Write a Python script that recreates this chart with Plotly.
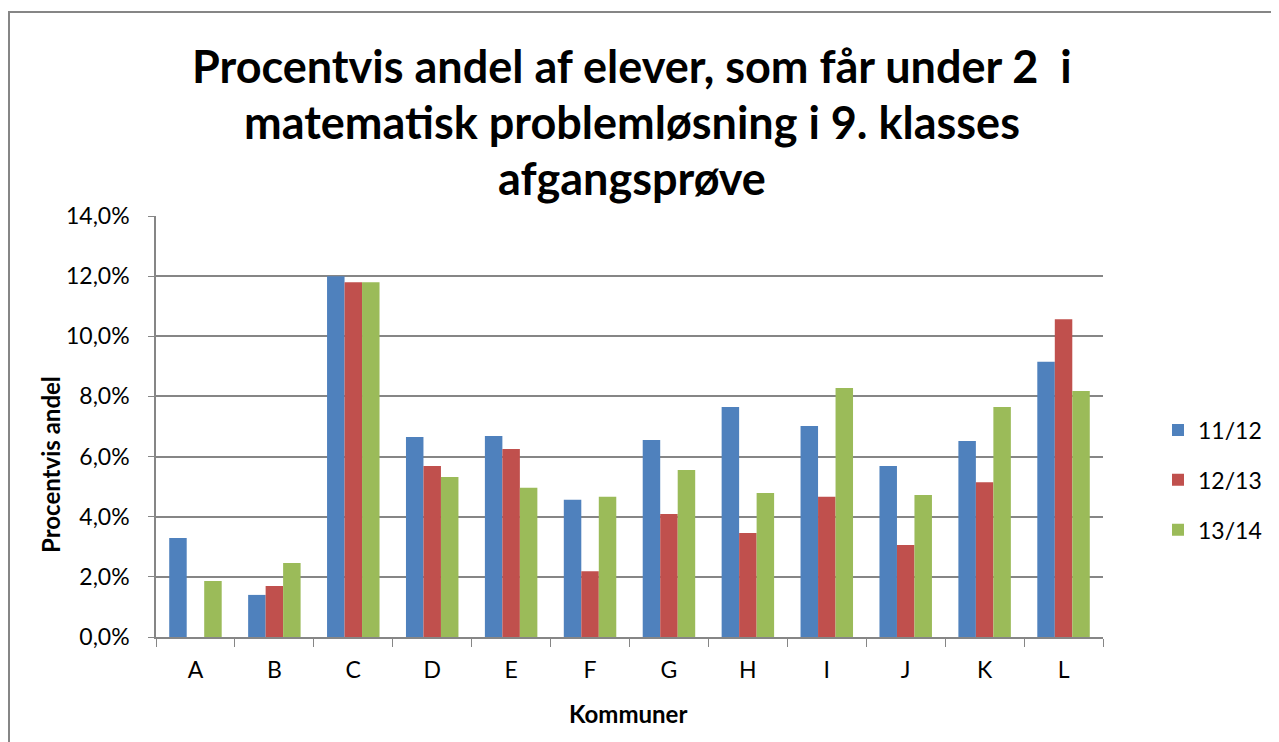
import plotly.graph_objects as go

# Kommuner og procentvis andel (som brøk)
KOMMUNER = ['A', 'B', 'C', 'D', 'E', 'F', 'G', 'H', 'I', 'J', 'K', 'L']
SERIES_NAMES = ['11/12', '12/13', '13/14']
V_11_12 = [0.0329, 0.0140, 0.1200, 0.0665, 0.0668, 0.0456, 0.0655, 0.0765, 0.0702, 0.0569, 0.0652, 0.0915]
V_12_13 = [None, 0.0170, 0.1180, 0.0569, 0.0625, 0.0219, 0.0409, 0.0346, 0.0466, 0.0306, 0.0515, 0.1057]
V_13_14 = [0.0186, 0.0246, 0.1180, 0.0532, 0.0496, 0.0466, 0.0555, 0.0479, 0.0828, 0.0472, 0.0765, 0.0818]
Y_TICKS = [0, 0.02, 0.04, 0.06, 0.08, 0.10, 0.12, 0.14]
TITLE_LINES = ['Procentvis andel af elever, som får under 2  i',
               'matematisk problemløsning i 9. klasses',
               'afgangsprøve']

COLORS = ['#4F81BD', '#C0504D', '#9BBB59']
FONT = 'Lato, Calibri, sans-serif'

# plot area in page pixels (page has an 8px body margin)
PX_L, PX_R, PX_T, PX_B = 156, 1103, 216, 637
W, H = PX_R - PX_L, PX_B - PX_T


def px_x(x):
    return (x - PX_L) / W


def px_y(y):
    return (PX_B - y) / H


fig = go.Figure()
for i, (name, vals) in enumerate(zip(SERIES_NAMES, [V_11_12, V_12_13, V_13_14])):
    fig.add_trace(go.Bar(x=KOMMUNER, y=vals, name=name, legendgroup=name,
                         marker=dict(color=COLORS[i], line=dict(width=0))))

fig.update_layout(
    width=1271, height=734,
    paper_bgcolor='white', plot_bgcolor='white',
    margin=dict(l=PX_L - 8, r=1271 - (PX_R - 8), t=PX_T - 8, b=734 - (PX_B - 8)),
    separators=',.',
    barmode='group', bargap=0.335, bargroupgap=0,
    font=dict(family=FONT, size=23, color='black'),
    legend=dict(x=px_x(1158), xanchor='left', y=px_y(480), yanchor='middle',
                font=dict(size=23), tracegroupgap=17, itemwidth=30),
    showlegend=True,
)

fig.update_yaxes(range=[0, 0.14], tickvals=Y_TICKS, tickformat='.1%',
                 showgrid=True, gridcolor='#868686', gridwidth=1.5,
                 showline=True, linecolor='#868686', linewidth=1.5,
                 ticks='outside', ticklen=6, tickcolor='#868686',
                 ticklabelstandoff=14, zeroline=False)
fig.update_xaxes(showline=True, linecolor='#868686', linewidth=1.5,
                 ticks='outside', tickson='boundaries', ticklen=8, tickcolor='#868686',
                 ticklabelstandoff=12)

# title, three centred lines
for i, (line, y) in enumerate(zip(TITLE_LINES, [66, 122, 178])):
    fig.add_annotation(text=line, xref='paper', yref='paper', x=px_x(632), y=px_y(y),
                       xanchor='center', yanchor='middle', showarrow=False,
                       font=dict(family=FONT, size=45, color='black', weight='bold'))

# axis titles
fig.add_annotation(text='Procentvis andel', xref='paper', yref='paper',
                   x=px_x(50), y=px_y(465), textangle=-90, showarrow=False,
                   xanchor='center', yanchor='middle',
                   font=dict(size=24, weight='bold'))
fig.add_annotation(text='Kommuner', xref='paper', yref='paper',
                   x=px_x(628), y=px_y(713), showarrow=False,
                   xanchor='center', yanchor='middle',
                   font=dict(size=24, weight='bold'))

# outer chart frame
fig.add_shape(type='rect', xref='paper', yref='paper',
              x0=px_x(9), x1=px_x(1300), y0=px_y(760), y1=px_y(12),
              line=dict(color='#868686', width=2))

fig.write_html('out.html')
